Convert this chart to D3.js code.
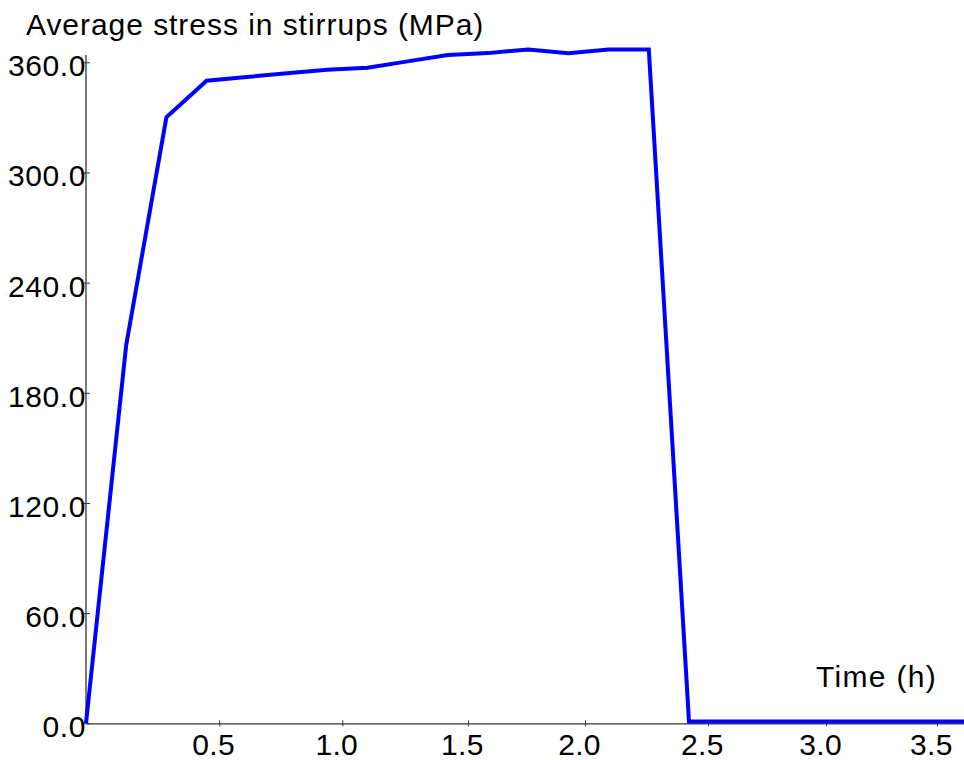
<!DOCTYPE html>
<html>
<head>
<meta charset="utf-8">
<script src="https://cdn.jsdelivr.net/npm/d3@7"></script>
<style>
  html, body { margin: 0; padding: 0; background: #fff; }
  svg { display: block; }
  text { font-family: "Liberation Sans", Arial, Helvetica, sans-serif; fill: #000; }
</style>
</head>
<body>
<script>
// Time at each analysis step (h)
const times = [0, 0.15, 0.30, 0.45, 0.61, 0.77, 0.94, 1.10, 1.26, 1.42, 1.58,
               1.76, 1.93, 2.10, 2.26, 2.42, 2.59, 2.76, 2.93, 3.10, 3.29, 3.47, 3.65];
// Average stress in the stirrups at each step (MPa)
const stress = [0, 206, 330, 350, 352, 354, 356, 357, 360.5, 364, 365,
                367, 365, 367, 367, 1, 1, 1, 1, 1, 1, 1, 1];
const yTickValues = [0, 60, 120, 180, 240, 300, 360];
const xTickValues = [0.5, 1.0, 1.5, 2.0, 2.5, 3.0, 3.5];

const W = 964, H = 760;
const originX = 86, stepPx = 40.2;
const yBottom = 723.3, yTop = 62.3;

const svg = d3.select("body").append("svg").attr("width", W).attr("height", H);

// Steps are spaced evenly across the plot; time labels follow the step times
const stepScale = d3.scaleLinear().domain([0, times.length - 1])
  .range([originX, originX + (times.length - 1) * stepPx]);
const x = d3.scaleLinear().domain(times).range(times.map((_, i) => stepScale(i)));
const y = d3.scaleLinear().domain([0, 360]).range([yBottom, yTop]);

const axisColor = "#333";

// X axis
const xAxis = svg.append("g").attr("transform", `translate(0,${y(0)})`)
  .call(d3.axisBottom(x).tickValues(xTickValues).tickFormat(d3.format(".1f")).tickSizeOuter(0));
xAxis.select(".domain").attr("stroke", axisColor).attr("stroke-width", 1.3);
xAxis.selectAll(".tick line").attr("stroke", axisColor).attr("y1", -3).attr("y2", 3);
xAxis.selectAll(".tick text").attr("font-size", 30).attr("dy", 0).attr("y", 32).attr("dx", -6)
  .attr("letter-spacing", 0.3);

// Y axis
const yAxis = svg.append("g").attr("transform", `translate(${originX},0)`)
  .call(d3.axisLeft(y).tickValues(yTickValues).tickFormat(d3.format(".1f")).tickSizeOuter(0));
yAxis.select(".domain").attr("d", `M0,${y(0)}V${y(364)}`)
  .attr("stroke", axisColor).attr("stroke-width", 1.3);
yAxis.selectAll(".tick line").attr("stroke", axisColor).attr("x1", 4).attr("x2", -5);
yAxis.selectAll(".tick text").attr("font-size", 30).attr("x", 0).attr("dy", "0.45em")
  .attr("letter-spacing", 0.6);

// Stress history
const line = d3.line().x((d, i) => x(times[i])).y(d => y(d));
svg.append("path").datum(stress)
  .attr("d", line)
  .attr("fill", "none")
  .attr("stroke", "#0000ff")
  .attr("stroke-width", 4)
  .attr("stroke-linejoin", "miter");

// Axis titles
svg.append("text").attr("x", 26).attr("y", 35).attr("font-size", 30)
  .attr("letter-spacing", 0.95)
  .text("Average stress in stirrups (MPa)");
svg.append("text").attr("x", 937).attr("y", 686.5).attr("font-size", 30)
  .attr("letter-spacing", 1.3)
  .attr("text-anchor", "end").text("Time (h)");
</script>
</body>
</html>
